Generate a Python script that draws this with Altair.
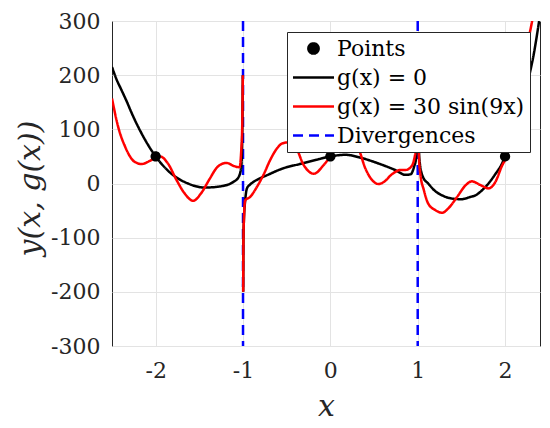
import altair as alt
import pandas as pd

# ---------------- data ----------------
LABELS = ["Points", "g(x) = 0", "g(x) = 30 sin(9x)", "Divergences"]

point_x = [-2.0, 0.0, 2.0]
point_y = [50, 50, 50]

div_x = [-1.0, 1.0]

# g(x) = 0 (black), three branches split by the poles
black_left_x = [-2.5, -2.45, -2.39, -2.33, -2.28, -2.16, -2.0, -1.82, -1.63, -1.44,
                -1.25, -1.11, -1.05, -1.02, -1.01, -1.002]
black_left_y = [215, 193, 172, 151, 132, 92, 50, 18, 0, -7.5,
                -5, 3, 12, 31, 80, 200]
black_mid_x = [-0.998, -0.995, -0.99, -0.975, -0.955, -0.92, -0.88, -0.8, -0.73, -0.54,
               -0.35, -0.155, 0.0, 0.17, 0.36, 0.55, 0.74, 0.86, 0.92, 0.96,
               0.98, 0.99, 0.997]
black_mid_y = [-200, -100, -68, -31, -9, -2, 3, 10, 15, 28,
               36, 44, 50, 53, 47, 37, 25, 16, 17, 32,
               45, 90, 200]
black_right_x = [1.003, 1.01, 1.02, 1.06, 1.12, 1.2, 1.28, 1.4, 1.5, 1.6,
                 1.66, 1.74, 1.81, 1.9, 1.95, 2.0, 2.1, 2.2, 2.26, 2.33, 2.39]
black_right_y = [200, 90, 43, 12, 0, -14, -22, -28, -29, -25,
                 -22, -12, 0, 20, 32, 50, 82, 135, 186, 240, 300]

# g(x) = 30 sin(9x) (red)
red_left_x = [-2.5, -2.43, -2.35, -2.24, -2.16, -2.04, -1.95, -1.86, -1.76, -1.67,
              -1.57, -1.48, -1.38, -1.29, -1.19, -1.1, -1.04, -1.02, -1.01, -1.002]
red_left_y = [157, 105, 68, 40, 36, 44, 50, 37, 6, -18,
              -32, -18, 9, 31, 38, 32, 30, 62, 100, 200]
red_mid_x = [-0.998, -0.995, -0.99, -0.975, -0.92, -0.84, -0.76, -0.69, -0.61, -0.55,
             -0.48, -0.4, -0.305, -0.19, -0.077, 0.0, 0.08, 0.17, 0.25, 0.32,
             0.4, 0.48, 0.55, 0.63, 0.69, 0.74, 0.8, 0.86, 0.92, 0.96,
             0.98, 0.99, 0.997]
red_mid_y = [-200, -100, -68, -31, -25, -6, 18, 43, 65, 74,
             76, 68, 34, 18, 34, 50, 70, 80, 78, 65,
             28, 6, -1, 5, 15, 21, 25, 25, 30, 45,
             70, 110, 200]
red_right_x = [1.003, 1.008, 1.015, 1.03, 1.07, 1.12, 1.2, 1.28, 1.35, 1.45,
               1.55, 1.62, 1.72, 1.81, 1.89, 1.96, 2.02, 2.1, 2.2, 2.26, 2.31, 2.36]
red_right_y = [200, 100, 45, 18, -12, -37, -49, -54, -46, -25,
               -3, 4, -3, -9, 3, 31, 52, 115, 205, 259, 300, 345]

# ---------------- tables ----------------
def branch(xs, ys, series, seg):
    return pd.DataFrame({"x": xs, "y": ys, "series": series, "seg": seg})

black_df = pd.concat([
    branch(black_left_x, black_left_y, LABELS[1], "a"),
    branch(black_mid_x, black_mid_y, LABELS[1], "b"),
    branch(black_right_x, black_right_y, LABELS[1], "c"),
])
red_df = pd.concat([
    branch(red_left_x, red_left_y, LABELS[2], "a"),
    branch(red_mid_x, red_mid_y, LABELS[2], "b"),
    branch(red_right_x, red_right_y, LABELS[2], "c"),
])
points_df = pd.DataFrame({"x": point_x, "y": point_y, "series": LABELS[0]})
div_df = pd.DataFrame({"x": div_x, "series": LABELS[3]})

# ---------------- styling ----------------
FONT = "DejaVu Serif"
CIRCLE = "M0,-0.5A0.5,0.5 0 1,1 0,0.5A0.5,0.5 0 1,1 0,-0.5Z"
LINE = "M-2,0L2,0"

legend = alt.Legend(title=None, orient="none", legendX=175, legendY=11)

color_scale = alt.Scale(domain=LABELS, range=["#000000", "#000000", "#ff0000", "#0000ff"])
shape_scale = alt.Scale(domain=LABELS, range=[CIRCLE, LINE, LINE, LINE])
dash_scale = alt.Scale(domain=LABELS, range=[[1, 0], [1, 0], [1, 0], [10, 6]])

x_enc = alt.X("x:Q", scale=alt.Scale(domain=[-2.5, 2.4], nice=False, zero=False),
              axis=alt.Axis(values=[-2, -1, 0, 1, 2], labelExpr="'' + datum.value",
                            title="x", titleX=214, titleY=60, titleBaseline="middle",
                            labelPadding=14))
y_enc = alt.Y("y:Q", scale=alt.Scale(domain=[-300, 300], nice=False),
              axis=alt.Axis(values=[-300, -200, -100, 0, 100, 200, 300],
                            labelExpr="'' + datum.value",
                            title="y(x, g(x))", titleX=-82, titleY=167,
                            titleBaseline="middle", titleAngle=270, labelPadding=12))

color_enc = alt.Color("series:N", scale=color_scale, legend=legend)
dash_enc = alt.StrokeDash("series:N", scale=dash_scale, legend=legend)
shape_enc = alt.Shape("series:N", scale=shape_scale, legend=legend)

rules = alt.Chart(div_df).mark_rule(strokeWidth=2.5).encode(
    x=x_enc, color=color_enc, strokeDash=dash_enc)

black = alt.Chart(black_df).mark_line(strokeWidth=2.5, interpolate="monotone", clip=True).encode(
    x=x_enc, y=y_enc, color=color_enc, strokeDash=dash_enc, detail="seg:N", order="x:Q")

red = alt.Chart(red_df).mark_line(strokeWidth=2.5, interpolate="monotone", clip=True).encode(
    x=x_enc, y=y_enc, color=color_enc, strokeDash=dash_enc, detail="seg:N", order="x:Q")

pts = alt.Chart(points_df).mark_point(filled=True, size=420, opacity=1).encode(
    x=x_enc, y=y_enc, color=color_enc, shape=shape_enc)

chart = alt.layer(rules, black, red, pts).properties(
    width=428, height=325,
    autosize=alt.AutoSizeParams(type="none"),
    padding={"left": 104, "top": 13, "right": 2, "bottom": 82},
).configure(
    font=FONT,
).configure_view(
    stroke="#262626", strokeWidth=1,
).configure_axis(
    domain=False, ticks=False,
    grid=True, gridColor="#e3e3e3", gridWidth=1,
    labelFont=FONT, labelFontSize=22, labelColor="#262626",
    titleFont=FONT, titleFontSize=30, titleFontStyle="italic", titleFontWeight="normal",
    titleColor="#262626",
).configure_legend(
    labelFont=FONT, labelFontSize=22, labelColor="#000000", labelLimit=400,
    symbolSize=420, symbolStrokeWidth=2.5, symbolOffset=10, labelOffset=12,
    padding=5, rowPadding=6,
    strokeColor="#262626", fillColor="#ffffff", cornerRadius=0,
)

chart.save("out.html", embed_options={"renderer": "svg", "actions": False})
